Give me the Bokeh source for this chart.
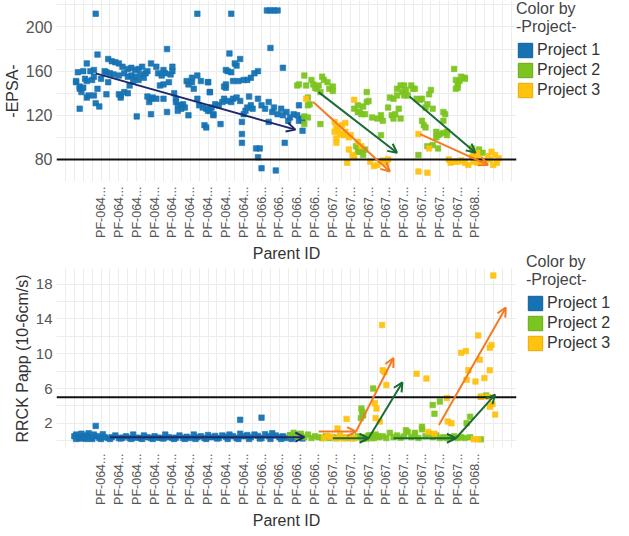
import math
from bokeh.plotting import figure
from bokeh.models import (Arrow, OpenHead, Span, Legend, LegendItem, FixedTicker,
                          Range1d)
from bokeh.layouts import column
from bokeh.embed import file_html
from bokeh.resources import INLINE

FONT = "Liberation Sans"

# ---------------- shared data ----------------
projects = ["Project 1", "Project 2", "Project 3"]
colors = ["#1573b3", "#7cc41f", "#ffc20e"]
edge_colors = ["#0f5f96", "#69a818", "#e5aa05"]

tick_pos = [25, 35, 45, 55, 65, 75, 85, 95, 105, 115, 125, 135, 145, 155, 165,
            175, 185, 195, 205, 215, 225, 235]
tick_labels = (["PF-064..."] * 9 + ["PF-066..."] * 4 + ["PF-067..."] * 8
               + ["PF-068..."])
grid_x = [0, 5, 10, 15, 20, 25, 30, 35, 40, 45, 50, 55, 60, 65, 70, 75, 80, 85,
          90, 95, 100, 105, 110, 115, 120, 125, 130, 135, 140, 145, 150, 155,
          160, 165, 170, 175, 180, 185, 190, 195, 200, 205, 210, 215, 220, 225,
          230, 235, 240, 245, 250, 255]

# ---------------- top chart: -EPSA- ----------------
epsa_ticks = [80, 120, 160, 200]
epsa_grid = [60, 80, 100, 120, 140, 160, 180, 200, 220]
epsa_threshold = 80

epsa_p1_x = [22, 79, 23, 62, 17, 29, 31, 33, 35, 37, 40, 42, 44, 46, 48, 53, 56, 60, 65,
             12, 15, 19, 21, 27, 28, 30, 25, 32, 35, 38, 40, 42, 44, 47, 50, 51, 57, 59, 61, 64, 65,
             11, 11, 13, 13, 15, 14, 16, 17, 20, 21,
             17, 18, 21, 22, 24, 13, 23, 28, 29,
             35, 36, 36, 38, 40, 41, 43, 46, 49,
             45, 53, 51, 53, 54, 56, 52, 58, 60, 63, 60, 62,
             66, 67, 67, 68, 70, 71, 72, 70, 68,
             73, 74, 76, 77, 76, 79, 74, 81, 85, 86,
             79, 80, 82, 84, 86, 88, 83, 84,
             98, 118, 120, 122, 124, 120, 127, 97, 103, 100, 101, 95, 96, 98,
             113, 111, 109, 107, 105, 102, 99, 95, 95, 94, 85, 86,
             94, 96, 99, 101, 103, 98, 93, 89, 91, 87, 85, 88, 92,
             104, 105, 107, 109, 106, 108, 110, 113, 115, 117, 119, 121, 122, 124, 126, 127,
             129, 131, 133, 135, 136, 138, 136, 138, 130,
             104, 104, 112, 114, 113, 115, 123, 128, 138, 119]
epsa_p1_y = [212, 212, 175, 180, 167, 171, 169, 168, 167, 164, 162, 163, 161, 162, 164, 167, 164, 161, 164,
             159, 160, 160, 161, 160, 159, 158, 153, 157, 156, 158, 155, 156, 155, 157, 158, 160, 158, 156, 158, 157, 160,
             150, 151, 146, 144, 145, 141, 153, 151, 152, 155,
             136, 138, 138, 131, 128, 126, 144, 139, 150,
             139, 136, 138, 141, 140, 147, 151, 152, 154,
             119, 121, 137, 135, 136, 135, 132, 147, 148, 150, 135, 123,
             140, 135, 132, 129, 129, 130, 127, 126, 124,
             151, 148, 150, 144, 154, 156, 120, 151, 150, 141,
             135, 129, 127, 126, 124, 120, 111, 109,
             212, 215, 215, 215, 215, 181, 163, 176, 171, 167, 165, 161, 160, 159,
             160, 158, 154, 152, 152, 151, 151, 148, 145, 146, 150, 141,
             135, 133, 135, 136, 133, 132, 132, 130, 129, 127, 124, 121, 112,
             114, 121, 127, 129, 124, 137, 126, 135, 129, 126, 132, 123, 127, 121, 126, 120,
             123, 118, 121, 120, 129, 115, 115, 117, 115,
             103, 95, 90, 90, 82, 72, 70, 95, 106, 114]

epsa_p2_x = [135, 136, 139, 140, 143, 144, 145, 147, 149, 150, 152, 153, 155, 155, 146, 148,
             141, 142, 141, 141, 139, 148, 139,
             167, 170, 172, 173, 168, 170, 172, 173,
             169, 171, 169, 174, 174, 175, 177, 180, 183, 182, 186, 188, 190, 189, 192, 193, 182,
             187, 189, 191, 191, 193, 194, 195, 196, 197, 199, 200, 201, 202, 204, 205, 195,
             207, 208, 211, 209, 210, 205, 206, 207, 208, 211, 214, 213,
             217, 218, 217, 213, 215, 217, 219, 219, 214, 203,
             223, 224, 225, 226, 225, 227, 229, 229, 224,
             233, 234, 237, 239, 169, 171]
epsa_p2_y = [147, 148, 156, 147, 152, 148, 145, 147, 155, 152, 150, 144, 142, 146, 144, 141,
             136, 130, 129, 118, 119, 112, 112,
             126, 123, 128, 121, 92, 87, 84, 89,
             123, 121, 129, 141, 132, 133, 118, 117, 115, 120, 127, 120, 121, 117, 126, 117, 102,
             136, 135, 138, 144, 147, 141, 147, 143, 138, 147, 144, 144, 135, 134, 135, 138,
             127, 130, 126, 139, 143, 115, 111, 109, 92, 93, 90, 100,
             123, 121, 115, 105, 103, 104, 105, 102, 102, 84,
             162, 152, 148, 151, 145, 155, 154, 153, 144,
             90, 87, 89, 86, 87, 89]

epsa_p3_x = [140, 167, 156, 157, 158, 156, 159, 161, 162, 164, 165, 157, 157, 160, 162,
             164, 166, 167, 163,
             169, 171, 176, 178, 180, 183, 185, 186,
             203, 208, 203, 209,
             220, 221, 223, 225, 227, 229, 231, 234, 236, 237, 239, 240, 242, 243, 244,
             246, 247, 248, 245, 233, 236, 234]
epsa_p3_y = [135, 134, 114, 109, 107, 105, 103, 102, 105, 100, 102, 99, 95, 111, 113,
             89, 84, 82, 77,
             96, 92, 78, 74, 75, 79, 77, 80,
             69, 68, 103, 90,
             80, 77, 78, 78, 79, 77, 75, 78, 77, 81, 78, 78, 83, 80, 87,
             84, 77, 81, 75, 82, 86, 84]

# trend arrows (start x, start y, end x, end y)
epsa_trend_x0 = [22, 147, 198, 144, 204]
epsa_trend_y0 = [158, 141, 137, 132, 103]
epsa_trend_x1 = [134, 191, 235, 187, 242]
epsa_trend_y1 = [107, 86, 86, 69, 75]
epsa_trend_color = ["#1c2a6b", "#1a6b34", "#1a6b34", "#f47a22", "#f47a22"]

# ---------------- bottom chart: RRCK Papp ----------------
rrck_ticks = [2, 6, 10, 14, 18]
rrck_grid = [0, 2, 4, 6, 8, 10, 12, 14, 16, 18]
rrck_threshold = 5

rrck_p1_x = [10, 11, 12, 13, 14, 15, 16, 17, 18, 19, 20, 21, 23, 24, 26, 27, 29, 31, 33, 35,
             37, 39, 41, 43, 45, 47, 49, 51, 53, 55, 57, 59, 61, 63, 65, 67, 69, 71, 73, 75,
             77, 79, 81, 83, 85, 87, 89, 91, 93, 95, 97, 99, 101, 103, 105, 107, 109, 111,
             113, 115, 117, 119, 121, 123, 125, 127, 129, 131, 133, 135, 137,
             11, 14, 17, 20, 25, 30, 36, 42, 48, 54, 60, 66, 72, 78, 84, 90, 96, 102, 108,
             114, 120, 126, 132, 138, 22, 103, 115]
rrck_p1_y = [0.5, 0.7, 0.4, 0.3, 0.8, 0.5, 0.3, 0.6, 0.85, 0.4, 0.3, 0.7, 0.5, 0.3, 0.75, 0.4,
             0.3, 0.4, 0.6, 0.3, 0.35, 0.5, 0.3, 0.7, 0.35, 0.3, 0.6, 0.4, 0.3, 0.5, 0.35, 0.3,
             0.7, 0.4, 0.3, 0.35, 0.6, 0.3, 0.45, 0.3, 0.7, 0.4, 0.5, 0.3, 0.65, 0.4, 0.55, 0.3,
             0.6, 0.45, 0.7, 0.5, 0.3, 0.8, 0.5, 0.65, 0.4, 0.7, 0.55, 0.3, 0.75, 0.5, 0.85,
             0.6, 0.4, 0.5, 0.3, 0.6, 0.45, 0.7, 0.5,
             0.2, 0.25, 0.2, 0.2, 0.2, 0.2, 0.25, 0.2, 0.2, 0.2, 0.25, 0.2, 0.2, 0.2, 0.2, 0.25,
             0.2, 0.2, 0.2, 0.25, 0.2, 0.2, 0.2, 0.25, 1.7, 2.4, 2.65]

rrck_p2_x = [131, 133, 135, 137, 139, 141, 143, 145, 147, 149, 151, 153, 155, 157, 159, 161,
             163, 165, 167, 169, 171, 173, 175, 177, 179, 181, 183, 185, 187, 189, 191, 193,
             195, 197, 199, 201, 203, 205, 207, 209, 211, 213, 215, 217, 219, 221, 223, 225,
             227, 229,
             177.6, 171, 171.5, 172, 170.7, 211, 215, 212, 232, 230, 238, 241, 232, 238, 205,
             196, 201, 172, 174, 176, 178, 180]
rrck_p2_y = [0.6, 0.9, 0.5, 0.8, 0.4, 0.7, 0.3, 0.5, 0.4, 0.3, 0.5, 0.3, 0.4, 0.3, 0.5, 0.35,
             0.3, 0.4, 0.3, 0.5, 0.35, 0.4, 0.6, 0.3, 0.7, 0.4, 0.5, 0.3, 0.9, 0.4, 0.6, 0.35,
             0.5, 1.0, 0.4, 0.7, 0.3, 1.3, 0.5, 0.8, 0.4, 0.6, 0.3, 0.4, 0.3, 0.35, 0.5, 0.3,
             0.4, 0.3,
             6.0, 3.7, 3.3, 2.9, 2.6, 4.1, 4.5, 3.1, 2.75, 2.0, 5.05, 5.2, 0.4, 0.15, 1.6,
             1.2, 0.9, 0.2, 0.25, 0.6, 0.3, 0.5]

rrck_p3_x = [245, 182.6, 236.5, 227, 229.6, 237.4, 244, 243, 231, 230, 235, 240, 243, 202,
             207.5, 183, 184, 185, 178.5, 179.5, 179, 181.3, 219, 219.5, 221.5, 243, 244.5,
             246, 242, 238, 162.7, 157.6, 154, 161, 165.5, 157, 208.5, 212, 234, 236.5,
             150, 152, 159, 163, 167]
rrck_p3_y = [19.0, 13.3, 12.1, 10.1, 10.3, 9.3, 11.0, 10.7, 8.1, 7.0, 6.8, 7.2, 8.1, 7.7,
             7.15, 8.1, 7.9, 6.4, 4.3, 3.7, 2.6, 2.2, 4.9, 2.2, 2.0, 3.9, 4.2,
             3.0, 5.05, 5.05, 2.5, 1.4, 0.45, 0.26, 0.26, 0.26, 1.0, 0.8, 0.15, 0.15,
             0.3, 0.5, 0.6, 0.4, 0.3]

rrck_trend_x0 = [30, 155, 175, 189, 224, 147, 168, 214.5]
rrck_trend_y0 = [0.4, 0.28, 0.28, 0.28, 0.28, 1.05, 1.05, 1.8]
rrck_trend_x1 = [139, 175, 194, 224, 246, 168, 189, 252]
rrck_trend_y1 = [0.4, 0.28, 6.7, 0.28, 5.3, 1.05, 9.5, 15.3]
rrck_trend_color = ["#1c2a6b", "#1a6b34", "#1a6b34", "#1a6b34", "#1a6b34",
                    "#f47a22", "#f47a22", "#f47a22"]

NAN = float("nan")


def make_chart(ylabel, yr, yticks, ygrid, threshold, xs, ys, tx0, ty0, tx1, ty1, tcol,
               ytick_size, left_border, top_border, frame_h, leg_loc):
    p = figure(frame_width=460, frame_height=frame_h,
               x_range=Range1d(0, 258), y_range=Range1d(*yr),
               output_backend="svg", toolbar_location=None,
               min_border_left=left_border, min_border_top=top_border,
               min_border_right=0, min_border_bottom=0,
               background_fill_color="white", border_fill_color="white")
    p.outline_line_color = None

    p.xgrid.ticker = FixedTicker(ticks=grid_x)
    p.ygrid.ticker = FixedTicker(ticks=ygrid)
    p.xgrid.grid_line_color = "#ececec"
    p.ygrid.grid_line_color = "#ececec"

    p.xaxis.ticker = FixedTicker(ticks=tick_pos)
    p.xaxis.major_label_overrides = {t: l for t, l in zip(tick_pos, tick_labels)}
    p.xaxis.major_label_orientation = math.pi / 2
    p.yaxis.ticker = FixedTicker(ticks=yticks)
    for ax in (p.xaxis[0], p.yaxis[0]):
        ax.axis_line_color = None
        ax.major_tick_line_color = None
        ax.minor_tick_line_color = None
        ax.major_tick_out = 0
        ax.major_tick_in = 0
        ax.minor_tick_out = 0
        ax.minor_tick_in = 0
        ax.major_label_text_font = FONT
        ax.major_label_text_color = "#555555"
        ax.axis_label_text_font = FONT
        ax.axis_label_text_font_style = "normal"
        ax.axis_label_text_color = "#333333"
        ax.axis_label_text_font_size = "16px"
    p.xaxis.major_label_text_font_size = "12.5px"
    p.yaxis.major_label_text_font_size = ytick_size
    p.xaxis.major_label_standoff = 5
    p.yaxis.major_label_standoff = 4
    p.xaxis.axis_label_standoff = 4
    p.yaxis.axis_label_standoff = 2
    p.xaxis.axis_label = "Parent ID"
    p.yaxis.axis_label = ylabel

    for x, y, c in zip(xs, ys, colors):
        p.scatter(x, y, marker="square", size=5.5, fill_color=c, line_color=c,
                  line_alpha=0.6, fill_alpha=0.95)

    p.add_layout(Span(location=threshold, dimension="width", line_color="#111111",
                      line_width=2))

    for a, b, c, d, col in zip(tx0, ty0, tx1, ty1, tcol):
        p.add_layout(Arrow(x_start=a, y_start=b, x_end=c, y_end=d, line_color=col,
                           line_width=2,
                           end=OpenHead(size=9, line_color=col, line_width=2)))

    items = []
    for name, c, ec in zip(projects, colors, edge_colors):
        r = p.quad(left=[NAN], right=[NAN], top=[NAN], bottom=[NAN],
                   fill_color=c, line_color=ec, line_width=1)
        items.append(LegendItem(label=name, renderers=[r]))
    leg = Legend(items=items, title="Color by\n-Project-", location=leg_loc,
                 orientation="vertical")
    leg.title_text_font = FONT
    leg.title_text_font_size = "16px"
    leg.title_text_font_style = "normal"
    leg.title_text_color = "#444444"
    leg.title_standoff = 5
    leg.label_text_font = FONT
    leg.label_text_font_size = "16px"
    leg.label_text_color = "#333333"
    leg.glyph_width = 18
    leg.glyph_height = 18
    leg.label_height = 18
    leg.label_standoff = 3
    leg.spacing = 2
    leg.padding = 0
    leg.margin = 0
    leg.border_line_color = None
    leg.background_fill_alpha = 0
    p.add_layout(leg, "right")
    return p


p1 = make_chart("-EPSA-", (60, 224), epsa_ticks, epsa_grid, epsa_threshold,
                [epsa_p1_x, epsa_p2_x, epsa_p3_x], [epsa_p1_y, epsa_p2_y, epsa_p3_y],
                epsa_trend_x0, epsa_trend_y0, epsa_trend_x1, epsa_trend_y1,
                epsa_trend_color, "16px", 45, 0, 181, "top_left")
p2 = make_chart("RRCK Papp (10-6cm/s)", (-0.9, 19.8), rrck_ticks, rrck_grid,
                rrck_threshold,
                [rrck_p1_x, rrck_p2_x, rrck_p3_x], [rrck_p1_y, rrck_p2_y, rrck_p3_y],
                rrck_trend_x0, rrck_trend_y0, rrck_trend_x1, rrck_trend_y1,
                rrck_trend_color, "15px", 56, 4, 180, (10, 96))

layout = column(p1, p2, spacing=0)
open("out.html", "w").write(file_html(layout, INLINE))
